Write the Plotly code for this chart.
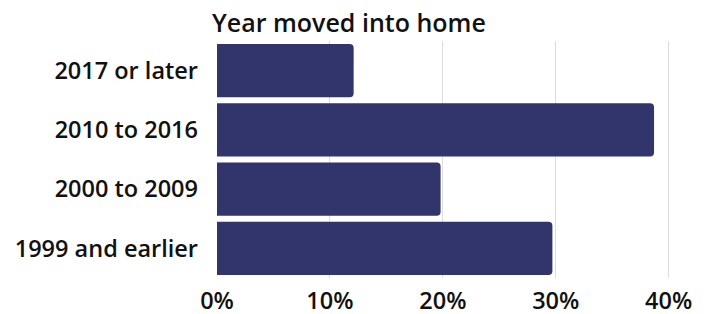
import plotly.graph_objects as go

categories = ["2017 or later", "2010 to 2016", "2000 to 2009", "1999 and earlier"]
shares = [12.1, 38.7, 19.8, 29.7]
tick_vals = [0, 10, 20, 30, 40]
tick_text = ["0%", "10%", "20%", "30%", "40%"]

FONT = "Open Sans"

fig = go.Figure(go.Bar(
    x=shares, y=categories, orientation="h",
    marker=dict(color="#32356b", cornerradius=4, line=dict(width=0)),
    hoverinfo="skip",
))

fig.update_layout(
    width=710, height=314,
    margin=dict(l=217, r=30, t=41, b=36),
    paper_bgcolor="white", plot_bgcolor="white",
    bargap=0.1,
    showlegend=False,
    font=dict(family=FONT, size=23, color="#111111", weight=600),
    title=dict(text="Year moved into home", xref="container", yref="container",
               x=212/710, xanchor="left", y=1-23.5/314, yanchor="middle",
               font=dict(family=FONT, size=25, color="#111111", weight=600)),
)
fig.update_xaxes(range=[0, 41], tickvals=tick_vals, ticktext=tick_text,
                 showgrid=True, gridcolor="#dddddd", gridwidth=1,
                 zeroline=False, showline=False, ticks="", ticklabelstandoff=6,
                 tickfont=dict(size=23.5), automargin=False, fixedrange=True)
fig.update_yaxes(autorange="reversed", showgrid=False, zeroline=False,
                 showline=False, ticks="", ticklabelstandoff=18,
                 tickfont=dict(size=23.5), automargin=False, fixedrange=True)

fig.write_html("out.html", config={"displayModeBar": False},
               post_script="document.body.style.margin='0';document.body.style.overflow='hidden';")
